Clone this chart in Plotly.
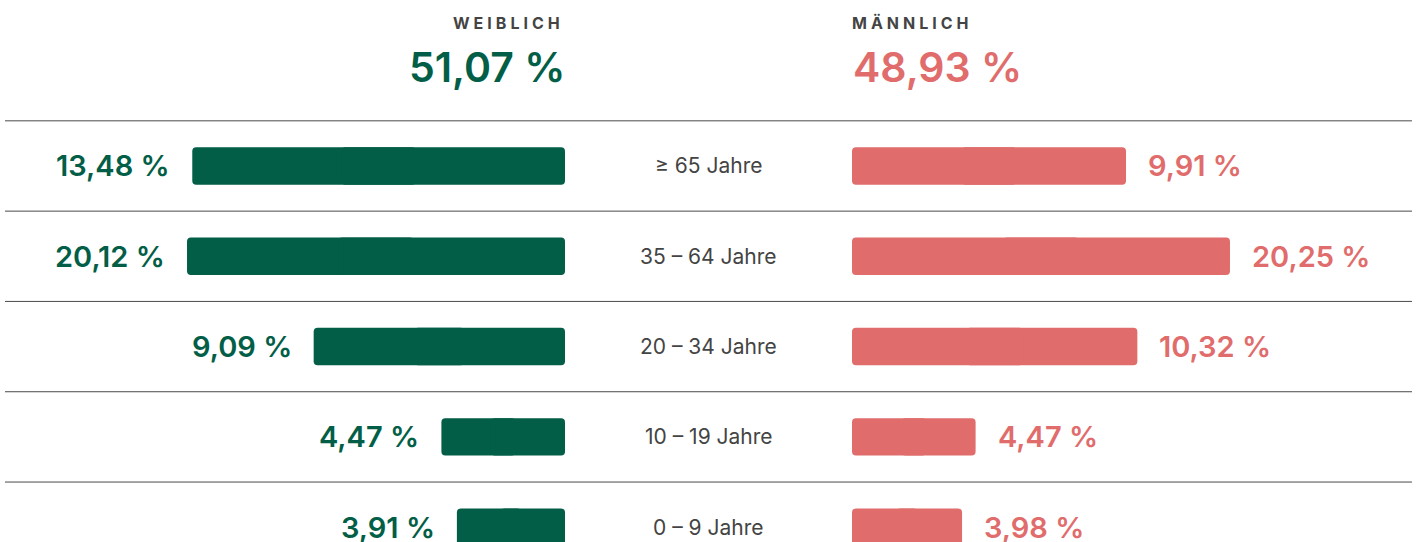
import plotly.graph_objects as go

# ---- data ----
categories = ["≥ 65 Jahre", "35 – 64 Jahre", "20 – 34 Jahre", "10 – 19 Jahre", "0 – 9 Jahre"]
female = [13.48, 20.12, 9.09, 4.47, 3.91]
male = [9.91, 20.25, 10.32, 4.47, 3.98]
header_female = "WEIBLICH"
header_male = "MÄNNLICH"

# ---- style ----
GREEN = "#025E46"
CORAL = "#E06C6C"
TEXT = "#444444"
LINE = "#4a4a4a"
FONT = "Inter"
W, H = 1417, 542
SCALE = 27.65          # px per percent
CAP = 13.67            # maximum drawn bar length (percent units)
HALF = 565             # width in px of each side area
R = HALF / SCALE
BAR_W = 0.415


def fmt(v):
    return f"{v:.2f}".replace(".", ",") + " %"


def spaced(s):
    return "\u2005".join(list(s))


fem_len = [min(v, CAP) for v in female]
mal_len = [min(v, CAP) for v in male]

fig = go.Figure()
# each bar is drawn as two overlapping pieces pointing in opposite directions,
# so that both ends get rounded corners
for lens, color, xa in [(fem_len, GREEN, "x"), (mal_len, CORAL, "x2")]:
    outer_base = [v * 0.4 for v in lens]
    inner_base = [v * 0.6 for v in lens]
    fig.add_trace(go.Bar(
        y=categories, x=[v - b for v, b in zip(lens, outer_base)], base=outer_base,
        orientation="h", marker=dict(color=color, line=dict(width=0)), width=BAR_W,
        xaxis=xa, yaxis="y", hoverinfo="skip", showlegend=False))
    fig.add_trace(go.Bar(
        y=categories, x=[-b for b in inner_base], base=inner_base,
        orientation="h", marker=dict(color=color, line=dict(width=0)), width=BAR_W,
        xaxis=xa, yaxis="y", hoverinfo="skip", showlegend=False))

annotations = []
for cat, f, m, fl, ml in zip(categories, female, male, fem_len, mal_len):
    annotations.append(dict(
        x=fl, y=cat, xref="x", yref="y", text=fmt(f), showarrow=False,
        xanchor="right", yanchor="middle", xshift=-20,
        font=dict(family=FONT, size=29, color=GREEN, weight=600)))
    annotations.append(dict(
        x=ml, y=cat, xref="x2", yref="y", text=fmt(m), showarrow=False,
        xanchor="left", yanchor="middle", xshift=20,
        font=dict(family=FONT, size=29, color=CORAL, weight=600)))
    annotations.append(dict(
        x=0.5, y=cat, xref="paper", yref="y", text=cat, showarrow=False,
        xanchor="center", yanchor="middle",
        font=dict(family=FONT, size=21, color=TEXT)))

# headers
annotations += [
    dict(x=0, xref="x", y=1 - 23 / H, yref="paper", text=spaced(header_female), showarrow=False,
         xanchor="right", yanchor="middle", xshift=-3,
         font=dict(family=FONT, size=16, color=TEXT, weight=700)),
    dict(x=0, xref="x2", y=1 - 23 / H, yref="paper", text=spaced(header_male), showarrow=False,
         xanchor="left", yanchor="middle", xshift=-2,
         font=dict(family=FONT, size=16, color=TEXT, weight=700)),
    dict(x=0, xref="x", y=1 - 67 / H, yref="paper", text=fmt(sum(female)), showarrow=False,
         xanchor="right", yanchor="middle", xshift=2,
         font=dict(family=FONT, size=41, color=GREEN, weight=600)),
    dict(x=0, xref="x2", y=1 - 67 / H, yref="paper", text=fmt(sum(male)), showarrow=False,
         xanchor="left", yanchor="middle", xshift=-1,
         font=dict(family=FONT, size=41, color=CORAL, weight=600)),
]

shapes = []
for i in range(len(categories)):
    shapes.append(dict(type="line", xref="paper", yref="y",
                       x0=5 / W, x1=1412 / W, y0=i - 0.5, y1=i - 0.5,
                       line=dict(color=LINE, width=1)))

fig.update_layout(
    width=W, height=H,
    margin=dict(l=0, r=0, t=0, b=0),
    paper_bgcolor="white", plot_bgcolor="white",
    barmode="overlay",
    barcornerradius=4,
    xaxis=dict(domain=[0, HALF / W], range=[R, 0], visible=False, fixedrange=True),
    xaxis2=dict(domain=[1 - HALF / W, 1], range=[0, R], anchor="y", visible=False, fixedrange=True),
    yaxis=dict(domain=[0, 1], type="category", categoryorder="array", categoryarray=categories,
               range=[4.164, -1.838], visible=False, fixedrange=True),
    annotations=annotations,
    shapes=shapes,
    showlegend=False,
)

fig.write_html("out.html", config={"displayModeBar": False},
               post_script="document.body.style.margin='0';document.body.style.overflow='hidden';")
